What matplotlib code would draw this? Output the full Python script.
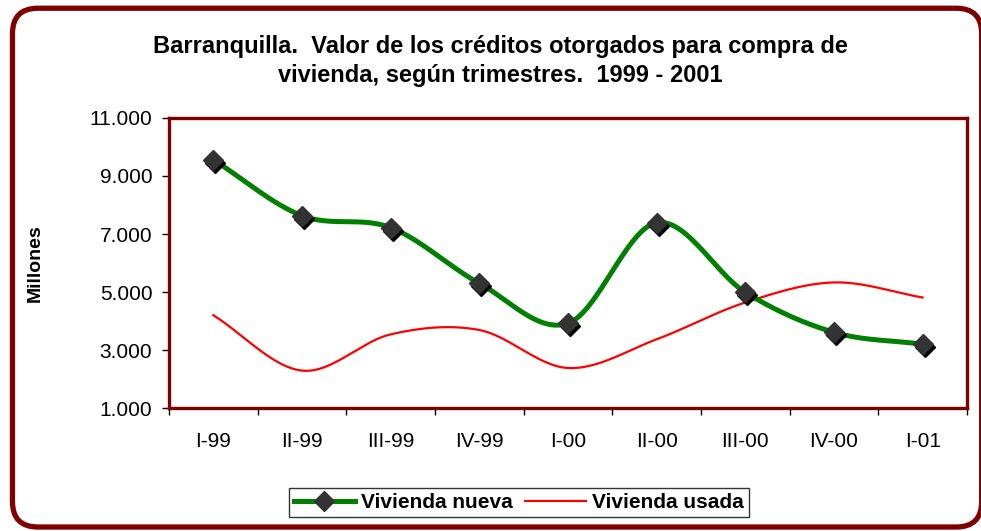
import numpy as np
import matplotlib.pyplot as plt
from matplotlib.patches import FancyBboxPatch
from matplotlib.ticker import FuncFormatter
import matplotlib.transforms as mtransforms

plt.rcParams['font.family'] = ['Liberation Sans', 'DejaVu Sans']

trimestres = ['I-99', 'II-99', 'III-99', 'IV-99', 'I-00', 'II-00', 'III-00', 'IV-00', 'I-01']
nueva = [9560, 7630, 7220, 5300, 3920, 7390, 4990, 3610, 3200]
usada = [4200, 2290, 3540, 3690, 2380, 3370, 4640, 5330, 4810]


def suave(x, y, n=30):
    # curva tipo Catmull-Rom, como el "suavizado" de Excel
    x = np.asarray(x, float)
    y = np.asarray(y, float)
    px = np.concatenate([[2 * x[0] - x[1]], x, [2 * x[-1] - x[-2]]])
    py = np.concatenate([[2 * y[0] - y[1]], y, [2 * y[-1] - y[-2]]])
    xs, ys = [], []
    for i in range(1, len(px) - 2):
        t = np.linspace(0, 1, n)
        for p, out in ((px, xs), (py, ys)):
            p0, p1, p2, p3 = p[i - 1], p[i], p[i + 1], p[i + 2]
            out.extend(0.5 * ((2 * p1) + (-p0 + p2) * t
                              + (2 * p0 - 5 * p1 + 4 * p2 - p3) * t ** 2
                              + (-p0 + 3 * p1 - 3 * p2 + p3) * t ** 3))
    return np.array(xs), np.array(ys)


fig = plt.figure(figsize=(9.81, 5.31), dpi=100)

# marco exterior redondeado
marco = FancyBboxPatch((0.0127, 0.0075), 0.988, 0.977,
                       boxstyle='round,pad=0,rounding_size=0.026',
                       transform=fig.transFigure, fill=False,
                       edgecolor='#800000', linewidth=3.8, mutation_aspect=981 / 531)
fig.patches.append(marco)

ax = fig.add_axes([0.1723, 0.2316, 0.8134, 0.5462])
x = np.arange(len(trimestres))

xs, ys = suave(x, nueva)
ax.plot(xs, ys, color='#008000', linewidth=3.6, zorder=3)
sombra = ax.transData + mtransforms.ScaledTranslation(2 / 100, -3 / 100, fig.dpi_scale_trans)
ax.plot(x, nueva, linestyle='none', marker='D', markersize=10, color='black',
        transform=sombra, zorder=4)
ax.plot(x, nueva, linestyle='none', marker='D', markersize=10, color='#333333', zorder=5)

xs2, ys2 = suave(x, usada)
ax.plot(xs2, ys2, color='#ff0000', linewidth=1.6, zorder=2)

ax.set_xlim(-0.5, len(trimestres) - 0.5)
ax.set_ylim(1000, 11000)
ax.set_yticks(range(1000, 11001, 2000))
ax.yaxis.set_major_formatter(FuncFormatter(lambda v, p: f'{int(v):,}'.replace(',', '.')))
ax.set_xticks(x)
ax.set_xticklabels(trimestres)
ax.set_xticks(np.arange(-0.5, len(trimestres)), minor=True)
ax.tick_params(axis='x', which='major', length=0, pad=17, labelsize=15)
ax.tick_params(axis='x', which='minor', length=5, width=1, color='black')
ax.tick_params(axis='y', length=5, width=1, labelsize=15, pad=7)
for s in ax.spines.values():
    s.set_color('#800000')
    s.set_linewidth(2.4)

ax.set_ylabel('Millones', fontsize=14, fontweight='bold', labelpad=33)

fig.text(0.51, 0.913, 'Barranquilla.  Valor de los créditos otorgados para compra de',
         ha='center', va='center', fontsize=17, fontweight='bold')
fig.text(0.51, 0.857, 'vivienda, según trimestres.  1999 - 2001',
         ha='center', va='center', fontsize=17, fontweight='bold')

h1, = ax.plot([], [], color='#008000', linewidth=3.6, marker='D',
              markersize=10, markerfacecolor='#333333', markeredgecolor='#333333')
h2, = ax.plot([], [], color='#ff0000', linewidth=1.6)
leg = fig.legend([h1, h2], ['Vivienda nueva', 'Vivienda usada'], ncol=2,
                 loc='center', bbox_to_anchor=(0.529, 0.054), frameon=True,
                 fancybox=False, edgecolor='black', prop={'weight': 'bold', 'size': 15},
                 handlelength=2.9, handletextpad=0.3, columnspacing=0.6,
                 borderpad=0.25)
leg.get_frame().set_linewidth(1)

fig.savefig('out.png', dpi=100)
